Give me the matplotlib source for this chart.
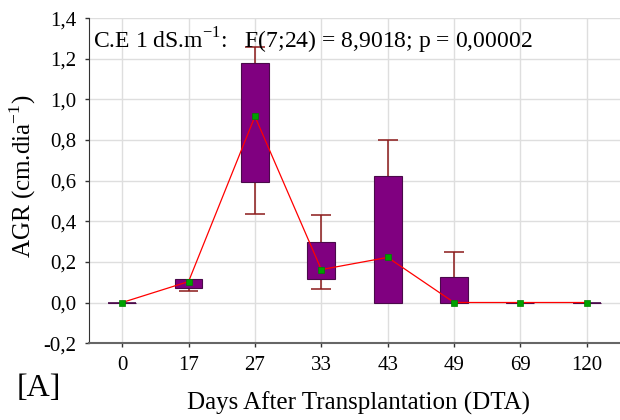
import numpy as np
import matplotlib
matplotlib.use("Agg")
import matplotlib.pyplot as plt

# Taxa de crescimento absoluto por época de coleta
dias = ["0", "17", "27", "33", "43", "49", "69", "120"]
media = [0.0, 0.103, 0.916, 0.162, 0.222, 0.0, 0.0, 0.0]
caixa_inf = [0.0, 0.072, 0.591, 0.117, 0.0, 0.0, 0.0, 0.0]
caixa_sup = [0.0, 0.117, 1.179, 0.300, 0.621, 0.125, 0.0, 0.0]
bigode_inf = [np.nan, 0.059, 0.438, 0.066, np.nan, np.nan, np.nan, np.nan]
bigode_sup = [np.nan, np.nan, 1.258, 0.433, 0.798, 0.248, np.nan, np.nan]

plt.rcParams['font.family'] = ['Liberation Serif', 'DejaVu Serif']
plt.rcParams['mathtext.fontset'] = 'custom'
plt.rcParams['mathtext.rm'] = 'Liberation Serif'

fig = plt.figure(figsize=(6.2, 4.2), dpi=100)
ax = fig.add_axes([0.1435, 0.183, 0.8565, 0.774])

x = np.arange(len(dias))
larg = 0.42
cap = 0.3

# bigodes
for xi, lo, bl, hi, bh in zip(x, caixa_inf, bigode_inf, caixa_sup, bigode_sup):
    if not np.isnan(bl):
        ax.vlines(xi, bl, lo, color='#8b1a1a', lw=1.1, zorder=2)
        ax.hlines(bl, xi - cap / 2, xi + cap / 2, color='#8b1a1a', lw=1.1, zorder=2)
    if not np.isnan(bh):
        ax.vlines(xi, hi, bh, color='#8b1a1a', lw=1.1, zorder=2)
        ax.hlines(bh, xi - cap / 2, xi + cap / 2, color='#8b1a1a', lw=1.1, zorder=2)

# caixas
alturas = np.array(caixa_sup) - np.array(caixa_inf)
ax.bar(x, alturas, bottom=caixa_inf, width=larg, color='#800080',
       edgecolor='#4a0a4a', linewidth=0.8, zorder=3)
for xi, a, b in zip(x, alturas, caixa_inf):
    if a == 0:
        ax.hlines(b, xi - larg / 2, xi + larg / 2, color='#4a0a4a', lw=1.2, zorder=3)

# médias
ax.plot(x, media, color='#ff0000', lw=0.9, zorder=4)
ax.plot(x, media, ls='none', marker='s', ms=5, color='#00a000',
        markeredgecolor='#008000', markeredgewidth=0.5, zorder=5)

ax.set_xlim(-0.5, 7.5)
ax.set_ylim(-0.2, 1.4)
ax.set_xticks(x)
ax.set_xticklabels(dias)
yt = np.arange(-0.2, 1.41, 0.2)
ax.set_yticks(yt)
ax.set_yticklabels([f"{v:.1f}".replace('.', ',') for v in yt])
ax.tick_params(labelsize=15, length=3, width=1, color='#333333', pad=6)

ax.grid(True, color='#dedede', lw=1)
ax.set_axisbelow(True)
ax.spines['top'].set_visible(False)
ax.spines['right'].set_visible(False)
ax.spines['left'].set_color('#333333')
ax.spines['bottom'].set_color('#666666')
ax.spines['bottom'].set_linewidth(1.5)

fig.text(0.037, 0.581, r'AGR (cm.dia$^{\mathregular{-1}}$)', fontsize=18,
         rotation=90, ha='center', va='center')
fig.text(0.579, 0.040, 'Days After Transplantation (DTA)', fontsize=18,
         ha='center', va='center')

ax.text(0.008, 0.975, r'C.E 1 dS.m$^{\mathregular{-1}}$:   F(7;24) = 8,9018; p = 0,00002',
        transform=ax.transAxes, fontsize=17, va='top', ha='left')
fig.text(0.027, 0.076, '[A]', fontsize=23, ha='left', va='center')

fig.savefig('out.png', dpi=100)
